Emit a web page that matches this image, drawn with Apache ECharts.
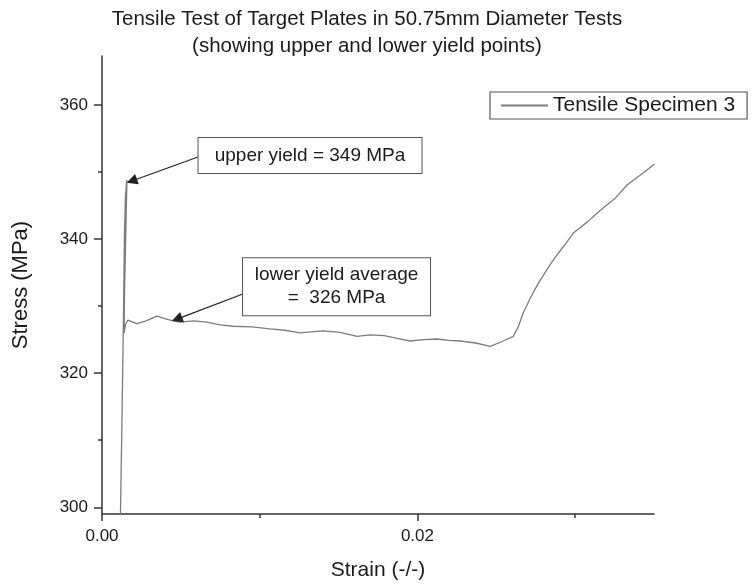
<!DOCTYPE html>
<html>
<head>
<meta charset="utf-8">
<script src="https://cdn.jsdelivr.net/npm/echarts@6/dist/echarts.min.js"></script>
<style>
  html, body { margin: 0; padding: 0; background: #fff; }
  #chart { width: 752px; height: 586px; }
</style>
</head>
<body>
<div id="chart"></div>
<script>
// strain (-/-) and stress (MPa)
const strain = [
  0.00117, 0.00128, 0.00137, 0.00142, 0.00148, 0.00155, 0.00158,
  0.00150, 0.00143, 0.00140, 0.00150, 0.00163, 0.00220, 0.00280,
  0.00347, 0.00420, 0.00493, 0.00580, 0.00665, 0.00750, 0.00830,
  0.00950, 0.01065, 0.01160, 0.01255, 0.01401, 0.01509, 0.01617,
  0.01700, 0.01790, 0.01871, 0.01954, 0.02040, 0.02125, 0.02200,
  0.02271, 0.02370, 0.02462, 0.02544, 0.02608, 0.02639, 0.02671,
  0.02720, 0.02766, 0.02820, 0.02874, 0.02930, 0.02989, 0.03080,
  0.03160, 0.03250, 0.03331, 0.03433, 0.03503,
];
const stress = [
  299.0, 315.0, 330.0, 340.0, 346.0, 348.3, 348.8,
  340.0, 332.0, 326.0, 327.3, 327.9, 327.4, 327.8,
  328.5, 328.0, 327.6, 327.8, 327.6, 327.2, 327.0,
  326.9, 326.6, 326.4, 326.0, 326.3, 326.1, 325.5,
  325.7, 325.6, 325.2, 324.8, 325.0, 325.1, 324.9,
  324.8, 324.5, 324.0, 324.8, 325.5, 326.9, 329.0,
  331.4, 333.4, 335.4, 337.3, 339.0, 340.9, 342.6,
  344.3, 346.0, 348.1, 349.9, 351.2,
];

const xMajorTicks = [0, 0.02];
const xMinorTicks = [0.01, 0.03];
const yMajorTicks = [300, 320, 340, 360];
const yMinorTicks = [310, 330, 350];

const seriesName = 'Tensile Specimen 3';
const titleText = 'Tensile Test of Target Plates in 50.75mm Diameter Tests\n(showing upper and lower yield points)';

// annotations: [strain, stress] in data space
const upperText = 'upper yield = 349 MPa';
const upperBoxAt = [0.01319, 352.46];
const upperArrow = [[0.00608, 352.24], [0.00189, 348.66]];
const lowerText = 'lower yield average\n=  326 MPa';
const lowerBoxAt = [0.01487, 332.9];
const lowerArrow = [[0.00893, 331.8], [0.00475, 328.06]];

const FONT = '"Liberation Sans", Arial, sans-serif';
const X_MIN = 0, X_MAX = 0.035, Y_MIN = 299, Y_MAX = 367.3;

const chart = echarts.init(document.getElementById('chart'));

// the boxes are the label's own background, the point symbol is hidden
const boxLabel = {
  show: true,
  position: 'inside',
  align: 'center',
  verticalAlign: 'middle',
  color: '#1a1a1a',
  fontFamily: FONT,
  fontSize: 19,
  lineHeight: 23,
  backgroundColor: '#fff',
  borderColor: '#555',
  borderWidth: 1,
};

chart.setOption({
  animation: false,
  backgroundColor: '#fff',
  title: {
    text: titleText,
    left: 362,
    top: 1,
    textAlign: 'center',
    textStyle: {
      fontFamily: FONT,
      fontSize: 20.5,
      fontWeight: 'normal',
      color: '#1a1a1a',
      lineHeight: 27,
    },
  },
  legend: {
    data: [seriesName],
    left: 490,
    top: 92,
    padding: [3, 12, 3, 10],
    itemWidth: 47,
    itemHeight: 14,
    itemGap: 4,
    borderColor: '#555',
    borderWidth: 1.2,
    itemStyle: { opacity: 0 },
    textStyle: { fontFamily: FONT, fontSize: 21, color: '#1a1a1a' },
  },
  grid: {
    left: 102,
    right: 98,
    top: 56,
    bottom: 72,
  },
  xAxis: [{
    type: 'value',
    min: X_MIN,
    max: X_MAX,
    name: 'Strain (-/-)',
    nameLocation: 'middle',
    nameGap: 46,
    nameTextStyle: { fontFamily: FONT, fontSize: 21, color: '#1a1a1a' },
    axisLine: { show: true, lineStyle: { color: '#333', width: 1.5 } },
    axisTick: { show: true, length: 7, customValues: xMajorTicks, lineStyle: { color: '#333', width: 1.5 } },
    axisLabel: {
      customValues: xMajorTicks,
      margin: 14,
      fontFamily: FONT,
      fontSize: 17,
      color: '#1a1a1a',
      formatter: (v) => v.toFixed(2),
    },
    splitLine: { show: false },
  }, {
    type: 'value',
    position: 'bottom',
    min: X_MIN,
    max: X_MAX,
    axisLine: { show: false },
    axisTick: { show: true, length: 4, customValues: xMinorTicks, lineStyle: { color: '#333', width: 1.5 } },
    axisLabel: { show: false },
    splitLine: { show: false },
  }],
  yAxis: [{
    type: 'value',
    min: Y_MIN,
    max: Y_MAX,
    name: 'Stress (MPa)',
    nameLocation: 'middle',
    nameGap: 70,
    nameTextStyle: { fontFamily: FONT, fontSize: 22, color: '#1a1a1a' },
    axisLine: { show: true, lineStyle: { color: '#333', width: 1.5 } },
    axisTick: { show: true, length: 8, customValues: yMajorTicks, lineStyle: { color: '#333', width: 1.5 } },
    axisLabel: {
      customValues: yMajorTicks,
      margin: 14,
      fontFamily: FONT,
      fontSize: 17,
      color: '#1a1a1a',
    },
    splitLine: { show: false },
  }, {
    type: 'value',
    position: 'left',
    min: Y_MIN,
    max: Y_MAX,
    axisLine: { show: false },
    axisTick: { show: true, length: 4, customValues: yMinorTicks, lineStyle: { color: '#333', width: 1.5 } },
    axisLabel: { show: false },
    splitLine: { show: false },
  }],
  series: [{
    name: seriesName,
    type: 'line',
    xAxisIndex: 0,
    yAxisIndex: 0,
    symbol: 'none',
    data: strain.map((s, i) => [s, stress[i]]),
    lineStyle: { color: '#7c7c7c', width: 1.3 },
    itemStyle: { color: '#7c7c7c' },
    markLine: {
      silent: true,
      symbol: ['none', 'triangle'],
      symbolSize: 11,
      label: { show: false },
      lineStyle: { color: '#222', width: 1.2, type: 'solid' },
      data: [
        [{ coord: upperArrow[0] }, { coord: upperArrow[1] }],
        [{ coord: lowerArrow[0] }, { coord: lowerArrow[1] }],
      ],
    },
    markPoint: {
      silent: true,
      symbol: 'circle',
      symbolSize: 1,
      itemStyle: { color: 'rgba(0,0,0,0)' },
      data: [{
        coord: upperBoxAt,
        label: { ...boxLabel, formatter: upperText, width: 223, padding: [6, 0, 6, 0] },
      }, {
        coord: lowerBoxAt,
        label: { ...boxLabel, formatter: lowerText, width: 187, padding: [5, 0, 6, 0] },
      }],
    },
  }],
});
</script>
</body>
</html>
